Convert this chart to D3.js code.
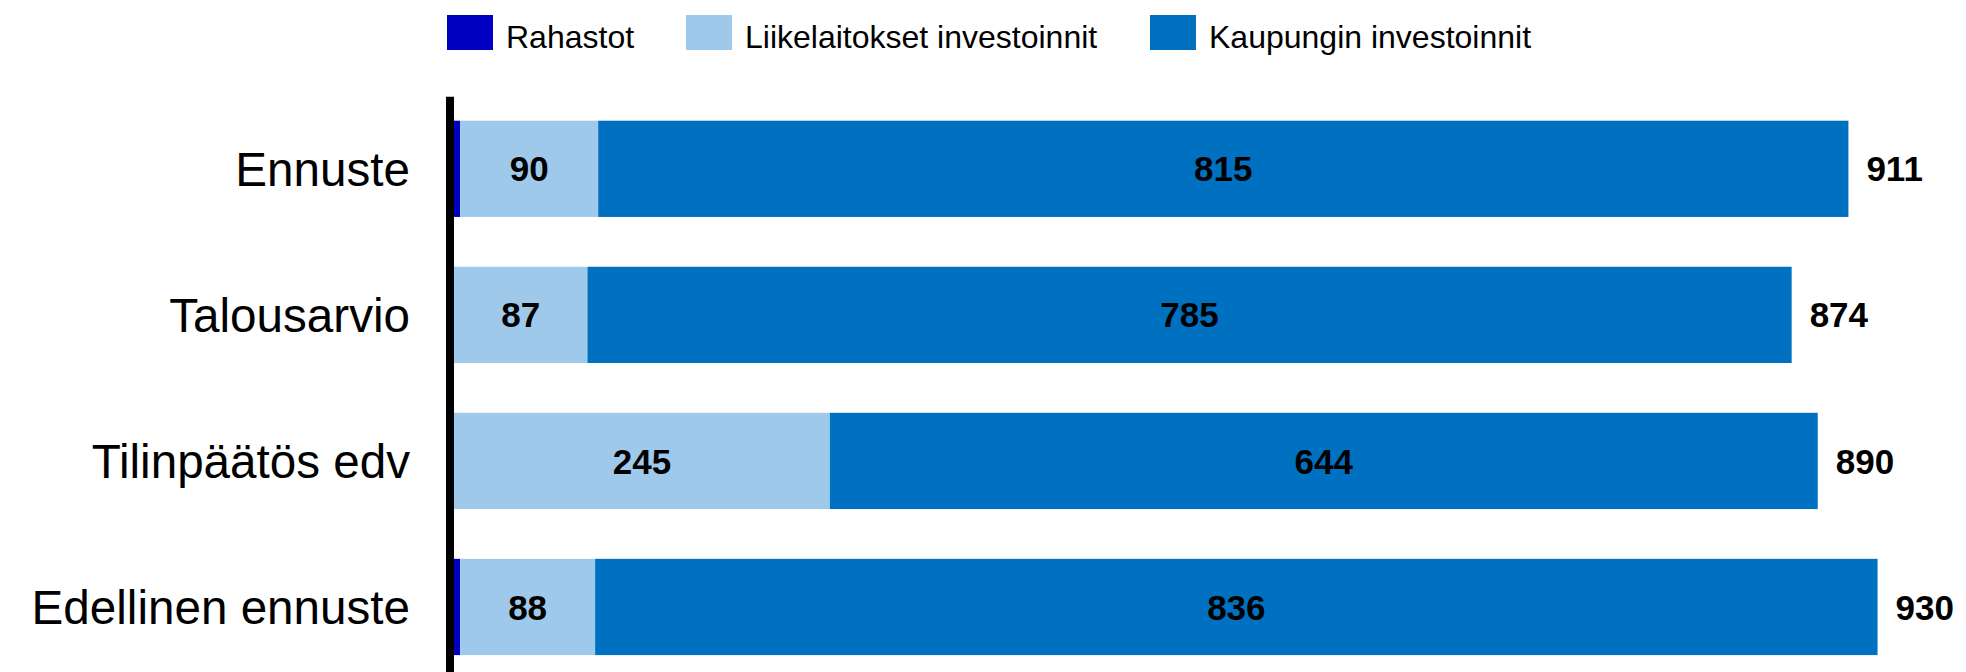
<!DOCTYPE html>
<html>
<head>
<meta charset="utf-8">
<script src="https://cdn.jsdelivr.net/npm/d3@7"></script>
<style>
  html, body { margin: 0; padding: 0; background: #fff; }
  svg { display: block; font-family: "Liberation Sans", Arial, sans-serif; }
</style>
</head>
<body>
<svg id="chart" width="1966" height="672"></svg>
<script>
const categories = ["Ennuste", "Talousarvio", "Tilinpäätös edv", "Edellinen ennuste"];
const seriesNames = ["Rahastot", "Liikelaitokset investoinnit", "Kaupungin investoinnit"];
const rahastot = [4, 0, 0, 4];
const liikelaitokset = [90, 87, 245, 88];
const kaupungin = [815, 785, 644, 836];
const totals = [911, 874, 890, 930];
const colors = ["#0000C0", "#9FC9EA", "#0070C0"];

const svg = d3.select("#chart");

const rows = categories.map((c, i) => ({
  cat: c,
  Rahastot: rahastot[i],
  "Liikelaitokset investoinnit": liikelaitokset[i],
  "Kaupungin investoinnit": kaupungin[i],
  total: totals[i]
}));

const x = d3.scaleLinear().domain([0, 985]).range([454, 1965]);
const y = d3.scaleBand().domain(categories).range([95.8, 680])
  .paddingInner(0.341).paddingOuter(0.1705);
const color = d3.scaleOrdinal().domain(seriesNames).range(colors);

const stack = d3.stack().keys(seriesNames)(rows);

const layers = svg.append("g").selectAll("g").data(stack).join("g")
  .attr("fill", d => color(d.key));

layers.selectAll("rect").data(d => d).join("rect")
  .attr("x", d => x(d[0]))
  .attr("y", d => y(d.data.cat))
  .attr("width", d => Math.max(0, x(d[1]) - x(d[0])))
  .attr("height", y.bandwidth());

// segment labels (skip Rahastot)
stack.filter(s => s.key !== "Rahastot").forEach(s => {
  svg.append("g").selectAll("text").data(s).join("text")
    .attr("x", d => (x(d[0]) + x(d[1])) / 2)
    .attr("y", d => y(d.data.cat) + y.bandwidth() / 2)
    .attr("dy", "0.36em")
    .attr("text-anchor", "middle")
    .attr("font-weight", "bold")
    .attr("font-size", 35)
    .attr("fill", "#000")
    .text(d => d[1] - d[0]);
});

// total labels
const last = stack[stack.length - 1];
svg.append("g").selectAll("text").data(last).join("text")
  .attr("x", d => x(d[1]) + 18)
  .attr("y", d => y(d.data.cat) + y.bandwidth() / 2)
  .attr("dy", "0.36em")
  .attr("font-weight", "bold")
  .attr("font-size", 35)
  .attr("fill", "#000")
  .text(d => d.data.total);

// category axis
const axis = svg.append("g").attr("transform", "translate(450,0)")
  .call(d3.axisLeft(y).tickSize(0).tickPadding(40));
axis.select(".domain").remove();
axis.selectAll("text")
  .attr("font-size", 47.6)
  .attr("font-family", "Liberation Sans, Arial, sans-serif")
  .attr("fill", "#000")
  .attr("dy", "0.36em");

svg.append("line")
  .attr("x1", 450).attr("x2", 450)
  .attr("y1", 96.7).attr("y2", 672)
  .attr("stroke", "#000").attr("stroke-width", 8);

// legend
const legendX = [447, 686, 1150];
const legend = svg.append("g").selectAll("g").data(seriesNames).join("g")
  .attr("transform", (d, i) => `translate(${legendX[i]},15)`);
legend.append("rect")
  .attr("width", 46).attr("height", 35)
  .attr("fill", d => color(d));
legend.append("text")
  .attr("x", 59).attr("y", 33)
  .attr("font-size", 32)
  .attr("fill", "#000")
  .text(d => d);
</script>
</body>
</html>
